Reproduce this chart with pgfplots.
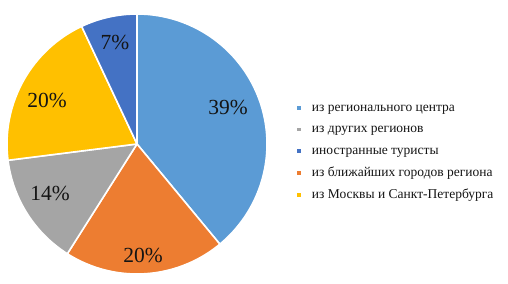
\documentclass[border=0pt]{standalone}
\usepackage{fontspec}
\setmainfont{Liberation Serif}
\usepackage{pgfplots}
\pgfplotsset{compat=1.18}
\definecolor{cA}{HTML}{5B9BD5}
\definecolor{cB}{HTML}{A5A5A5}
\definecolor{cC}{HTML}{4472C4}
\definecolor{cD}{HTML}{ED7D31}
\definecolor{cE}{HTML}{FFC000}
\definecolor{txt}{HTML}{141414}
% pie centre and radius (axis units = px of the reference)
\def\cx{137}\def\cy{140}\def\rr{130}
% #1 cumulative share before this slice, #2 share, #3 colour, #4 label x, #5 label y
\newcommand{\slice}[5]{%
  \pgfmathsetmacro\sa{90-3.6*#1}%
  \pgfmathsetmacro\sb{90-3.6*(#1+#2)}%
  \edef\doslice{\noexpand\addplot[fill=#3, draw=white, line width=1.6pt, line join=round, domain=\sb:\sa, samples=90, forget plot]
    ({\cx+\rr*cos(x)},{\cy+\rr*sin(x)}) -- (axis cs:\cx,\cy) -- cycle;}%
  \doslice
  \node[text=txt, font=\fontsize{21.5bp}{25bp}\selectfont] at (axis cs:#4,#5) {#2\%};
}
\begin{document}
\begin{tikzpicture}
\begin{axis}[
  scale only axis, width=508bp, height=284bp,
  xmin=0, xmax=508, ymin=0, ymax=284,
  axis line style={draw=none}, ticks=none, clip=false,
  legend cell align=left,
  legend style={draw=none, fill=none, at={(axis cs:294,184.5)}, anchor=north west,
    font=\fontsize{13.5bp}{15bp}\selectfont, text=txt,
    nodes={inner sep=0pt, text height=9.5bp, text depth=3bp},
    row sep=9.3bp,
    /tikz/every odd column/.style={column sep=11bp}},
  legend image code/.code={\fill[#1] (0bp,-1.6bp) rectangle (3.8bp,2.2bp);},
]
\addlegendimage{fill=cA, draw=none}
\addlegendentry{из регионального центра}
\addlegendimage{fill=cB, draw=none}
\addlegendentry{из других регионов}
\addlegendimage{fill=cC, draw=none}
\addlegendentry{иностранные туристы}
\addlegendimage{fill=cD, draw=none}
\addlegendentry{из ближайших городов региона}
\addlegendimage{fill=cE, draw=none}
\addlegendentry{из Москвы и Санкт-Петербурга}

\slice{0}{39}{cA}{228}{177}
\slice{39}{20}{cD}{143}{29}
\slice{59}{14}{cB}{50}{91}
\slice{73}{20}{cE}{47}{184}
\slice{93}{7}{cC}{115}{242}
\end{axis}
\end{tikzpicture}
\end{document}
